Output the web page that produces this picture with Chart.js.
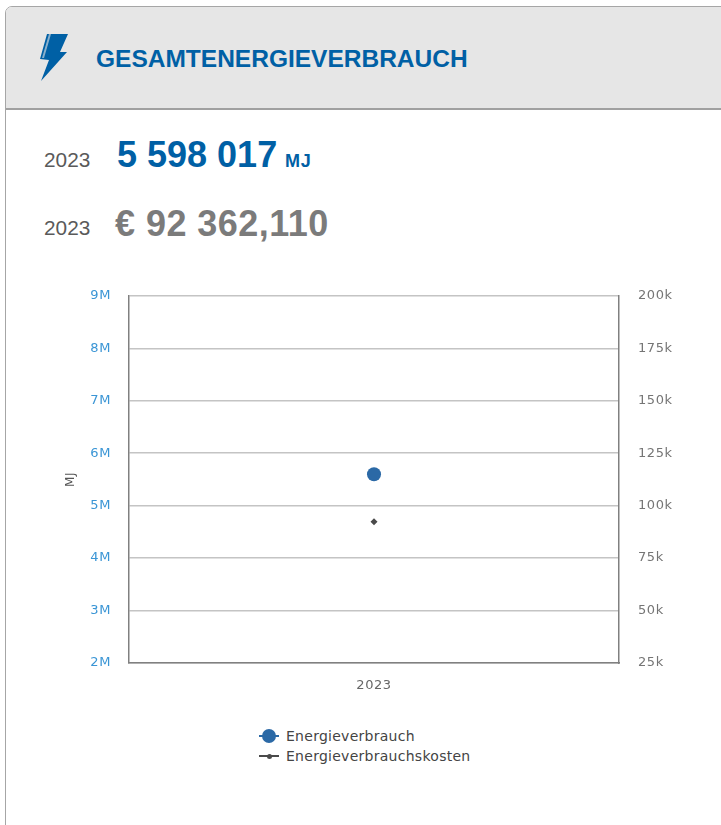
<!DOCTYPE html>
<html>
<head>
<meta charset="utf-8">
<title>Gesamtenergieverbrauch</title>
<script src="https://cdn.jsdelivr.net/npm/chart.js@4"></script>
<style>
  html, body { margin: 0; padding: 0; background: #fff; }
  body { width: 721px; height: 825px; overflow: hidden; position: relative; font-family: "Liberation Sans", Arial, sans-serif; }
  .card { position: absolute; left: 5px; top: 6px; width: 740px; height: 840px; border: 1px solid #a6a6a6; border-radius: 7px; box-sizing: border-box; overflow: hidden; }
  .head { position: absolute; left: 0; top: 0; right: 0; height: 101px; background: #e6e6e6; border-bottom: 2px solid #a0a0a0; }
  .abs { position: absolute; white-space: nowrap; }
  .title { left: 96px; top: 45px; font-size: 24.5px; line-height: 28px; font-weight: bold; color: #0060a5; }
  .year { left: 44px; font-size: 20.8px; line-height: 24px; color: #5a5a5a; }
  .big { font-size: 36px; line-height: 42px; font-weight: bold; }
  .unit { left: 285px; top: 151px; font-size: 18px; line-height: 20px; font-weight: bold; letter-spacing: 0.7px; color: #0060a5; }
  #chartBox { position: absolute; left: 0; top: 269px; width: 721px; height: 431px; }
  #legend { position: absolute; left: 259px; top: 726px; font: 14px "DejaVu Sans", sans-serif; letter-spacing: 0.27px; color: #444; }
  .item { position: relative; height: 20px; line-height: 20px; padding-left: 27px; white-space: nowrap; }
  .item i { position: absolute; left: 0; top: 9px; width: 20px; height: 2px; }
  .item b { position: absolute; border-radius: 50%; }
</style>
</head>
<body>
<div class="card"><div class="head"></div></div>
<svg width="32" height="50" viewBox="0 0 32 50" style="position:absolute;left:39px;top:33px">
  <polygon points="8,1 29,1 21,19 28,19 2,48 10,27 1,26" fill="#0060a5"/>
  <polygon points="10,1 12,1 5,25 3,25" fill="#e6e6e6" opacity="0.6"/>
</svg>
<div class="abs title">GESAMTENERGIEVERBRAUCH</div>
<div class="abs year" style="top:148px">2023</div>
<div class="abs big" style="left:117px;top:134px;color:#0060a5">5 598 017</div>
<div class="abs unit">MJ</div>
<div class="abs year" style="top:216px">2023</div>
<div class="abs big" style="left:115px;top:203px;letter-spacing:0.45px;color:#7b7b7b">€ 92 362,110</div>
<div id="chartBox"><canvas id="energyChart" width="721" height="431"></canvas></div>
<div id="legend"></div>
<script>
// Values
var years = ['2023'];
var energyValues = [5598017];
var costValues = [92362];
var energyTicks = ['2M', '3M', '4M', '5M', '6M', '7M', '8M', '9M'];
var costTicks = ['25k', '50k', '75k', '100k', '125k', '150k', '175k', '200k'];

var BLUE = '#2b69a6', DARK = '#4a4a4a';

document.addEventListener('DOMContentLoaded', function () {
  var tickFont = { family: '"DejaVu Sans", sans-serif', size: 13 };

  // The original's tick labels run a little wider than DejaVu does by default
  var spacedText = {
    id: 'spacedText',
    beforeDraw: function (chart) { chart.ctx.letterSpacing = '0.6px'; }
  };

  var chart = new Chart(document.getElementById('energyChart'), {
    type: 'line',
    plugins: [spacedText],
    data: {
      labels: years,
      datasets: [
        { label: 'Energieverbrauch', data: energyValues, yAxisID: 'y', backgroundColor: BLUE, borderColor: BLUE, pointRadius: 7, pointBorderWidth: 0, pointHoverRadius: 7 },
        { label: 'Energieverbrauchskosten', data: costValues, yAxisID: 'y2', backgroundColor: DARK, borderColor: DARK, pointStyle: 'rectRot', pointRadius: 3.5, pointBorderWidth: 0 }
      ]
    },
    options: {
      responsive: false,
      animation: false,
      layout: { padding: { left: 0, right: 0, top: 5, bottom: 0 } },
      plugins: { legend: { display: false }, tooltip: { enabled: false } },
      scales: {
        x: {
          offset: true,
          grid: { display: false },
          border: { color: '#808080', width: 1.5 },
          ticks: { color: '#666', font: tickFont, padding: 7, maxRotation: 0 },
          afterFit: function (s) { s.height = 37; }
        },
        y: {
          position: 'left',
          min: 2000000,
          max: 9000000,
          grid: { color: '#c4c4c4', lineWidth: 1.5, drawTicks: false },
          border: { color: '#808080', width: 1.5 },
          title: { display: true, text: 'MJ', color: '#555', font: { family: '"DejaVu Sans", sans-serif', size: 12 }, padding: { top: 64, bottom: 0 } },
          ticks: {
            color: '#3a95d5',
            font: tickFont,
            padding: 18,
            stepSize: 1000000,
            callback: function (v) { return energyTicks[Math.round(v / 1000000) - 2]; }
          },
          afterFit: function (s) { s.width = 129; }
        },
        y2: {
          position: 'right',
          min: 25000,
          max: 200000,
          grid: { display: false, drawTicks: false },
          border: { color: '#808080', width: 1.5 },
          ticks: {
            color: '#757575',
            font: tickFont,
            padding: 19,
            stepSize: 25000,
            callback: function (v) { return costTicks[Math.round(v / 25000) - 1]; }
          },
          afterFit: function (s) { s.width = 102; }
        }
      }
    }
  });

  // Stacked legend, as in the original; the library's own wraps only when out of room
  var legend = document.getElementById('legend');
  chart.data.datasets.forEach(function (ds, idx) {
    var r = idx === 0 ? 7 : 2.5;
    var item = document.createElement('div');
    item.className = 'item';
    item.innerHTML = '<i style="background:' + ds.borderColor + '"></i>' +
      '<b style="left:' + (10 - r) + 'px;top:' + (10 - r) + 'px;width:' + (2 * r) + 'px;height:' + (2 * r) + 'px;background:' + ds.backgroundColor + '"></b>';
    item.appendChild(document.createTextNode(ds.label));
    legend.appendChild(item);
  });
});
</script>
</body>
</html>
